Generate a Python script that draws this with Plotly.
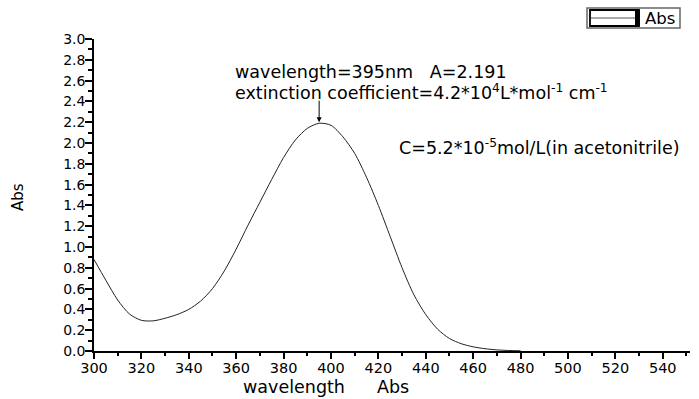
import plotly.graph_objects as go

# ---- data ----
wavelength = [300, 305, 310, 315, 320, 325, 330, 335, 340, 345, 350, 355, 360, 365, 370,
              375, 380, 385, 390, 395, 400, 405, 410, 415, 420, 425, 430, 435, 440, 445,
              450, 455, 460, 465, 470, 475, 480]
absorbance = [0.88, 0.68, 0.49, 0.355, 0.295, 0.29, 0.315, 0.35, 0.40, 0.48, 0.60, 0.77,
              0.98, 1.21, 1.43, 1.65, 1.86, 2.03, 2.14, 2.19, 2.17, 2.06, 1.90, 1.67, 1.40,
              1.10, 0.80, 0.54, 0.35, 0.21, 0.12, 0.07, 0.04, 0.022, 0.011, 0.005, 0.002]
x_tick_vals = [300, 320, 340, 360, 380, 400, 420, 440, 460, 480, 500, 520, 540]
y_tick_vals = [0.0, 0.2, 0.4, 0.6, 0.8, 1.0, 1.2, 1.4, 1.6, 1.8, 2.0, 2.2, 2.4, 2.6, 2.8, 3.0]
peak_wavelength = 395
peak_abs = 2.191

W, H = 699, 399
ML, MR, MT, MB = 94, 9, 39, 48
PW, PH = W - ML - MR, H - MT - MB
FONT = "DejaVu Sans"


def px(x):
    return (x - ML) / PW


def py(y):
    return (H - MB - y) / PH


fig = go.Figure()
fig.add_trace(go.Scatter(x=wavelength, y=absorbance, mode="lines", name="Abs",
                         line=dict(color="#222222", width=1, shape="spline", smoothing=0.8),
                         showlegend=False))

axis_common = dict(showline=True, linecolor="black", linewidth=1.5, ticks="outside",
                   tickcolor="black", tickwidth=1.5, showgrid=False, zeroline=False,
                   mirror=False)

fig.update_xaxes(range=[300, 551.5], tickvals=x_tick_vals, ticklen=6, ticklabelstandoff=-3,
                 tickfont=dict(family=FONT, size=14.5, color="black"),
                 minor=dict(dtick=10, tick0=300, ticklen=3, ticks="outside",
                            tickcolor="black", tickwidth=1.5, showgrid=False),
                 **axis_common)
fig.update_yaxes(range=[0, 3.0], tickvals=y_tick_vals, tickformat=".1f", ticklen=7,
                 ticklabelstandoff=-3,
                 tickfont=dict(family=FONT, size=14, color="black"),
                 minor=dict(dtick=0.1, tick0=0, ticklen=4, ticks="outside",
                            tickcolor="black", tickwidth=1.5, showgrid=False),
                 **axis_common)

ann_font = dict(family=FONT, size=17.5, color="black")
annotations = [
    dict(x=px(233), y=py(72), xref="paper", yref="paper", xanchor="left", yanchor="middle",
         text="wavelength=395nm   A=2.191", showarrow=False, font=ann_font),
    dict(x=px(233), y=py(92), xref="paper", yref="paper", xanchor="left", yanchor="middle",
         text="extinction coefficient=4.2*10<sup>4</sup>L*mol<sup>-1</sup> cm<sup>-1</sup>",
         showarrow=False, font=ann_font),
    dict(x=px(397), y=py(147), xref="paper", yref="paper", xanchor="left", yanchor="middle",
         text="C=5.2*10<sup>-5</sup>mol/L(in acetonitrile)", showarrow=False, font=ann_font),
    dict(x=peak_wavelength, y=peak_abs, xref="x", yref="y", text="", showarrow=True,
         ax=0, ay=-24, arrowhead=2, arrowsize=1, arrowwidth=1, arrowcolor="black",
         standoff=1),
    # axis titles
    dict(x=px(293.5), y=py(387), xref="paper", yref="paper", xanchor="center", yanchor="middle",
         text="wavelength", showarrow=False, font=ann_font),
    dict(x=px(392.5), y=py(387), xref="paper", yref="paper", xanchor="center", yanchor="middle",
         text="Abs", showarrow=False, font=ann_font),
    dict(x=px(18), y=py(197), xref="paper", yref="paper", xanchor="center", yanchor="middle",
         text="Abs", textangle=-90, showarrow=False,
         font=dict(family=FONT, size=15, color="black")),
    # legend label
    dict(x=px(643), y=py(18), xref="paper", yref="paper", xanchor="left", yanchor="middle",
         text="Abs", showarrow=False, font=dict(family=FONT, size=16.5, color="black")),
]

shapes = [
    # legend frame
    dict(type="rect", xref="paper", yref="paper", x0=px(587), x1=px(680), y0=py(28), y1=py(8),
         line=dict(color="#666666", width=1.5), fillcolor="white", layer="above"),
    # legend sample
    dict(type="rect", xref="paper", yref="paper", x0=px(590), x1=px(639), y0=py(26), y1=py(10),
         line=dict(color="black", width=1.8), fillcolor="white", layer="above"),
    dict(type="line", xref="paper", yref="paper", x0=px(591), x1=px(636), y0=py(18), y1=py(18),
         line=dict(color="#555555", width=1.2), layer="above"),
    dict(type="rect", xref="paper", yref="paper", x0=px(635), x1=px(640), y0=py(26), y1=py(10),
         line=dict(color="black", width=0), fillcolor="black", layer="above"),
]

fig.update_layout(width=W, height=H, margin=dict(l=ML, r=MR, t=MT, b=MB),
                  plot_bgcolor="white", paper_bgcolor="white",
                  font=dict(family=FONT, color="black"),
                  annotations=annotations, shapes=shapes, showlegend=False)

fig.write_html("out.html", config={"displayModeBar": False},
               post_script="document.body.style.margin='0';document.body.style.overflow='hidden';")
